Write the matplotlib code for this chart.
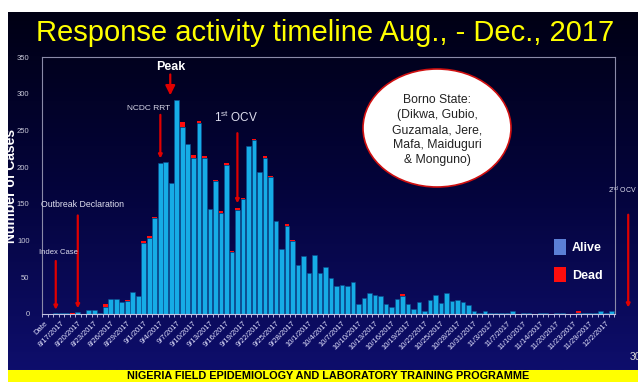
import numpy as np
import matplotlib.pyplot as plt
from matplotlib.colors import LinearSegmentedColormap
from matplotlib.patches import Ellipse, Rectangle, Patch

plt.rcParams['font.family'] = ['Liberation Sans', 'DejaVu Sans']
plt.rcParams['mathtext.fontset'] = 'custom'
plt.rcParams['mathtext.rm'] = 'Liberation Sans'

# ---- daily line list, Borno State outbreak 2017 ----
dates = ['Date', '8/15/2017', '8/16/2017', '8/17/2017', '8/18/2017', '8/19/2017',
         '8/20/2017', '8/21/2017', '8/22/2017', '8/23/2017', '8/24/2017', '8/25/2017',
         '8/26/2017', '8/27/2017', '8/28/2017', '8/29/2017', '8/30/2017', '8/31/2017',
         '9/1/2017', '9/2/2017', '9/3/2017', '9/4/2017', '9/5/2017', '9/6/2017',
         '9/7/2017', '9/8/2017', '9/9/2017', '9/10/2017', '9/11/2017', '9/12/2017',
         '9/13/2017', '9/14/2017', '9/15/2017', '9/16/2017', '9/17/2017', '9/18/2017',
         '9/19/2017', '9/20/2017', '9/21/2017', '9/22/2017', '9/23/2017', '9/24/2017',
         '9/25/2017', '9/26/2017', '9/27/2017', '9/28/2017', '9/29/2017', '9/30/2017',
         '10/1/2017', '10/2/2017', '10/3/2017', '10/4/2017', '10/5/2017', '10/6/2017',
         '10/7/2017', '10/8/2017', '10/9/2017', '10/10/2017', '10/11/2017', '10/12/2017',
         '10/13/2017', '10/14/2017', '10/15/2017', '10/16/2017', '10/17/2017', '10/18/2017',
         '10/19/2017', '10/20/2017', '10/21/2017', '10/22/2017', '10/23/2017', '10/24/2017',
         '10/25/2017', '10/26/2017', '10/27/2017', '10/28/2017', '10/29/2017', '10/30/2017',
         '10/31/2017', '11/1/2017', '11/2/2017', '11/3/2017', '11/5/2017', '11/6/2017',
         '11/7/2017', '11/8/2017', '11/9/2017', '11/10/2017', '11/12/2017', '11/13/2017',
         '11/14/2017', '11/16/2017', '11/17/2017', '11/20/2017', '11/21/2017', '11/22/2017',
         '11/23/2017', '11/25/2017', '11/27/2017', '11/29/2017', '11/30/2017', '12/1/2017',
         '12/2/2017', '12/3/2017']

alive = [0, 0, 1, 1, 1, 0, 3, 0, 5, 5, 1, 10, 21, 20, 16, 18, 30, 25,
         97, 104, 131, 205, 207, 178, 291, 254, 231, 213, 260, 213, 143, 181,
         137, 203, 84, 142, 156, 229, 237, 193, 213, 187, 127, 89, 120, 100,
         67, 79, 56, 80, 56, 64, 49, 38, 40, 38, 43, 13, 22, 29, 26, 25,
         13, 10, 20, 25, 13, 7, 17, 4, 19, 26, 15, 28, 18, 19, 16, 12,
         4, 2, 4, 1, 2, 1, 1, 4, 0, 1, 1, 0, 2, 2, 0, 2, 1, 0, 0, 2, 2,
         1, 1, 4, 2, 4]

dead = [0, 0, 0, 1, 0, 1, 0, 0, 0, 0, 0, 4, 0, 0, 0, 1, 0, 0,
        3, 2, 1, 0, 0, 0, 0, 8, 0, 3, 3, 2, 0, 2,
        3, 2, 2, 2, 2, 0, 2, 0, 2, 1, 0, 0, 2, 1,
        0, 0, 0, 1, 0, 0, 0, 0, 0, 0, 0, 0, 0, 0, 0, 0,
        0, 0, 0, 2, 0, 0, 0, 0, 0, 0, 0, 0, 0, 0, 0, 0,
        0, 0, 0, 0, 0, 0, 0, 0, 0, 0, 0, 0, 0, 0, 0, 0, 0, 0, 0, 2, 0,
        1, 0, 0, 0, 0]

lga_note = 'Borno State:\n(Dikwa, Gubio,\nGuzamala, Jere,\nMafa, Maiduguri\n& Monguno)'

x = np.arange(len(dates))
total = np.array(alive) + np.array(dead)

W, H = 638, 382
fig = plt.figure(figsize=(W / 100, H / 100), dpi=100)
fig.patch.set_facecolor('white')

# slide background
bg = fig.add_axes([8 / W, 12 / H, 1 - 8 / W, 358 / H])
shade = LinearSegmentedColormap.from_list('slide', ['#000014', '#04043c', '#0e0e6c'])
bg.imshow(np.linspace(0, 1, 256).reshape(-1, 1), aspect='auto', cmap=shade,
          extent=[0, 1, 0, 1], origin='upper')
bg.axis('off')

# footer banner
fig.add_artist(Rectangle((8 / W, 0), 1, 12 / H, transform=fig.transFigure,
                         facecolor='#ffff00', edgecolor='none', zorder=2))
fig.text(328 / W, 6 / H, 'NIGERIA FIELD EPIDEMIOLOGY AND LABORATORY TRAINING PROGRAMME',
         ha='center', va='center', fontsize=7.8, fontweight='bold', color='black', zorder=3)

fig.text(325 / W, 1 - 33 / H, 'Response activity timeline Aug., - Dec., 2017',
         ha='center', va='center', fontsize=21, color='#ffff00')

ax = fig.add_axes([42 / W, 1 - 314 / H, (615 - 42) / W, (314 - 57) / H])
ax.patch.set_alpha(0)

ax.bar(x, alive, width=0.86, color='#16ace6', edgecolor='#0b4a8c', linewidth=0.4)
ax.bar(x, dead, bottom=alive, width=0.86, color='#ff0d0d', linewidth=0)

ax.set_xlim(-0.5, len(dates) - 0.4)
ax.set_ylim(0, 350)
ax.set_yticks(range(0, 351, 50))
ax.tick_params(axis='y', length=0, pad=9, labelsize=5.5, labelcolor='#c8c8d8')

ax.set_xticks(x[::3])
ax.set_xticklabels(dates[::3], rotation=45, ha='right', rotation_mode='anchor')
ax.set_xticks(np.arange(-0.5, len(dates), 1), minor=True)
ax.tick_params(axis='x', which='major', length=0, pad=4, labelsize=5.5, labelcolor='#e4e4ff')
ax.tick_params(axis='x', which='minor', length=2.5, width=0.6, color='#d0d0f0', direction='out')

for side in ['left', 'top', 'right']:
    ax.spines[side].set_color('#8a8aa8')
    ax.spines[side].set_linewidth(0.8)
ax.spines['bottom'].set_color('#c0c0e0')

ax.set_ylabel('Number of Cases', color='white', fontsize=10, fontweight='bold')
ax.yaxis.set_label_coords(-0.042, 0.5)
ax.set_xlabel('Date', color='white', fontsize=9, fontweight='bold', zorder=5)
ax.xaxis.set_label_coords(0.5, -0.229)

red = '#e00000'
note = '#e0e0f0'


def event(xi, tip, tail, head=5):
    ax.annotate('', xy=(xi, tip), xytext=(xi, tail), annotation_clip=False,
                arrowprops=dict(arrowstyle='-|>', color=red, lw=1.6, mutation_scale=head))


# event markers
peak = int(np.argmax(total))
event(peak - 1.2, total[peak] + 3, 330, head=14)
ax.text(peak - 1.2, 337, 'Peak', color='white', fontsize=9, fontweight='bold',
        ha='center', va='center')

event(21, total[21] + 3, 275)
ax.text(18.9, 280, 'NCDC RRT', color='#d8d8e8', fontsize=6, ha='center', va='center')

event(35, total[35] + 3, 250)
ax.text(34.8, 268, '1$^{\\mathrm{st}}$ OCV', color=note, fontsize=8.5, ha='center', va='center')

event(6, total[6] + 1, 138)
ax.text(6.9, 149, 'Outbreak Declaration', color=note, fontsize=6.3, ha='center', va='center')

event(2, total[2] + 1, 76)
ax.text(2.5, 84, 'Index Case', color=note, fontsize=5.5, ha='center', va='center')

# second vaccination round, just past the last date
event(106, 5, 139)
ax.text(105, 168, '2$^{\\mathrm{nd}}$ OCV', color=note, fontsize=5, ha='center',
        va='center', clip_on=False)

# affected LGAs callout
fig.add_artist(Ellipse((437 / W, 1 - 128 / H), 148 / W, 118 / H, transform=fig.transFigure,
                       facecolor='white', edgecolor='#d01010', linewidth=1.2, zorder=4))
fig.text(437 / W, 1 - 130 / H, lga_note, ha='center', va='center', fontsize=8.8,
         color='#222222', linespacing=1.35, zorder=5)

ax.legend(handles=[Patch(facecolor='#5b7fd6', edgecolor='none', label='Alive'),
                   Patch(facecolor='#ff0d0d', edgecolor='none', label='Dead')],
          loc='upper left', bbox_to_anchor=((543 - 42) / 573, (314 - 228) / 257),
          frameon=False, labelcolor='white', prop={'weight': 'bold', 'size': 9},
          handlelength=0.9, handleheight=1.5, labelspacing=1.0, handletextpad=0.5)

fig.text(630 / W, 1 - 357 / H, '30', color='#d8d8d8', fontsize=7.5, va='center', ha='left')

fig.savefig('out.png', dpi=100, facecolor=fig.get_facecolor())
